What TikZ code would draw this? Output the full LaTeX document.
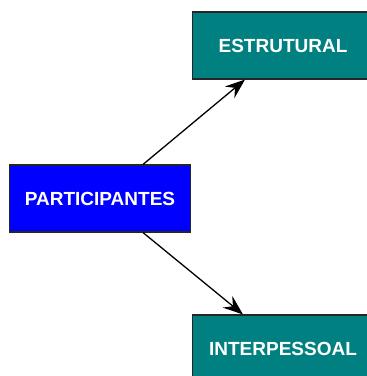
\documentclass[tikz,border=0pt]{standalone}
\usepackage{fontspec}
\setmainfont{Liberation Sans}
\usetikzlibrary{arrows.meta}
\definecolor{tealbox}{HTML}{008080}
\definecolor{bluebox}{HTML}{0000FF}
\tikzset{
  box/.style={draw=black!85, line width=1.1pt, minimum width=181pt, minimum height=67pt,
    inner sep=0pt, text=white, font=\fontsize{19}{22}\selectfont\bfseries},
  conn/.style={line width=1.3pt, -{Stealth[length=20pt,width=15pt,inset=7pt]}}
}
\begin{document}
\begin{tikzpicture}[x=1pt,y=1pt]
\useasboundingbox (0,0) rectangle (367,376);
\clip (0,0) rectangle (367,376);
\node[box, fill=bluebox] (p) at (100,177.5) {PARTICIPANTES};
\node[box, fill=tealbox] (e) at (283,330.5) {ESTRUTURAL};
\node[box, fill=tealbox] (i) at (283,27.5) {INTERPESSOAL};
\draw[conn] ([xshift=43pt]p.north) -- ([xshift=-38pt]e.south);
\draw[conn] ([xshift=43pt]p.south) -- ([xshift=-40pt]i.north);
\end{tikzpicture}
\end{document}
